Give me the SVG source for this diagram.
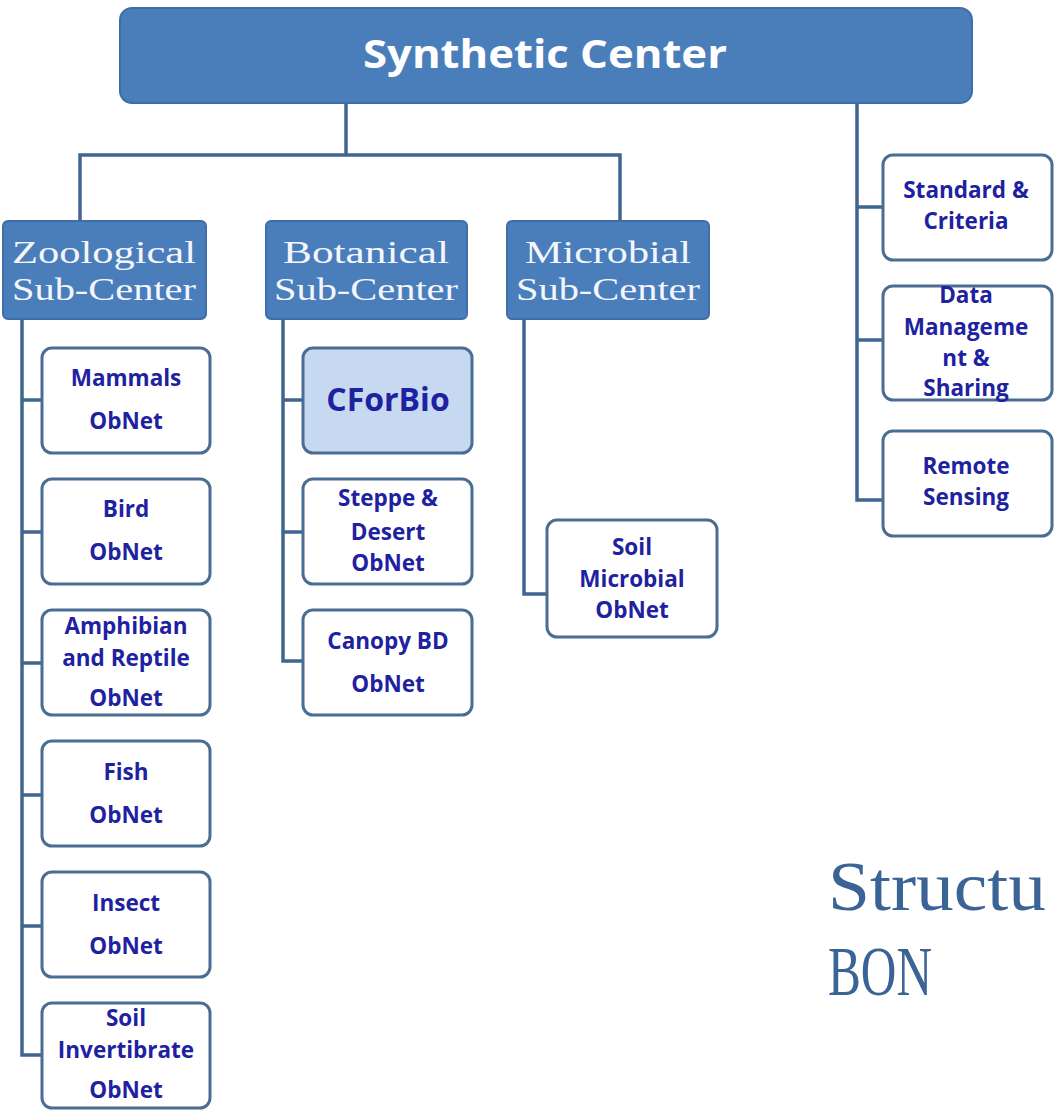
<svg xmlns="http://www.w3.org/2000/svg" width="1054" height="1112" viewBox="0 0 1054 1112">
<style>
.top{fill:#4a7ebb;stroke:#3d6ea8;stroke-width:2}
.sub{fill:#4a7ebb;stroke:#3d6ea8;stroke-width:2}
.leaf{fill:#ffffff;stroke:#4a6d93;stroke-width:3}
.hl{fill:#c6d9f1;stroke:#4a6d93;stroke-width:3}
.conn{fill:none;stroke:#3f6590;stroke-width:3.5}
.tt{font-family:"Open Sans","Liberation Sans",sans-serif;font-weight:bold;fill:#ffffff;text-anchor:middle;font-size:40px}
.st{font-family:"Liberation Serif",serif;fill:#f4f6fb;text-anchor:middle;font-size:32px}
.lt{font-family:"Open Sans","Liberation Sans",sans-serif;font-weight:bold;fill:#1e22a0;text-anchor:middle;font-size:22.5px}
.big{font-size:32px}
.cap{font-family:"Liberation Serif",serif;fill:#3a6496;font-size:70px}
</style>
<g id="connectors">
<path class="conn" d="M346 103 V155 M80 222 V155 H620 V222"/>
<path class="conn" d="M857 97 V500 H883 M857 207 H883 M857 340 H883"/>
<path class="conn" d="M22 319 V1055 H42 M22 400 H42 M22 532 H42 M22 663 H42 M22 795 H42 M22 926 H42"/>
<path class="conn" d="M283 319 V661 H303 M283 400 H303 M283 532 H303"/>
<path class="conn" d="M524 320 V594 H547"/>
</g>
<g id="synthetic-center">
<rect class="top" x="120" y="8" width="852" height="95" rx="12"/>
<text class="tt" x="545" y="68" textLength="364" lengthAdjust="spacingAndGlyphs">Synthetic Center</text>
</g>
<g id="zoological">
<rect class="sub" x="3" y="221" width="203" height="98" rx="5"/>
<text class="st" x="104" y="263" textLength="184" lengthAdjust="spacingAndGlyphs">Zoological</text>
<text class="st" x="104" y="300" textLength="184" lengthAdjust="spacingAndGlyphs">Sub-Center</text>
</g>
<g id="botanical">
<rect class="sub" x="266" y="221" width="201" height="98" rx="5"/>
<text class="st" x="366" y="263" textLength="166" lengthAdjust="spacingAndGlyphs">Botanical</text>
<text class="st" x="366" y="300" textLength="184" lengthAdjust="spacingAndGlyphs">Sub-Center</text>
</g>
<g id="microbial">
<rect class="sub" x="507" y="221" width="202" height="98" rx="5"/>
<text class="st" x="608" y="263" textLength="166" lengthAdjust="spacingAndGlyphs">Microbial</text>
<text class="st" x="608" y="300" textLength="184" lengthAdjust="spacingAndGlyphs">Sub-Center</text>
</g>
<g id="mammals">
<rect class="leaf" x="42" y="348" width="168" height="105" rx="10"/>
<text class="lt" x="126" y="386">Mammals</text>
<text class="lt" x="126" y="429">ObNet</text>
</g>
<g id="bird">
<rect class="leaf" x="42" y="479" width="168" height="105" rx="10"/>
<text class="lt" x="126" y="517">Bird</text>
<text class="lt" x="126" y="560">ObNet</text>
</g>
<g id="amphibian">
<rect class="leaf" x="42" y="610" width="168" height="105" rx="10"/>
<text class="lt" x="126" y="634">Amphibian</text>
<text class="lt" x="126" y="666">and Reptile</text>
<text class="lt" x="126" y="706">ObNet</text>
</g>
<g id="fish">
<rect class="leaf" x="42" y="741" width="168" height="105" rx="10"/>
<text class="lt" x="126" y="780">Fish</text>
<text class="lt" x="126" y="823">ObNet</text>
</g>
<g id="insect">
<rect class="leaf" x="42" y="872" width="168" height="105" rx="10"/>
<text class="lt" x="126" y="911">Insect</text>
<text class="lt" x="126" y="954">ObNet</text>
</g>
<g id="soil-invertibrate">
<rect class="leaf" x="42" y="1003" width="168" height="105" rx="10"/>
<text class="lt" x="126" y="1026">Soil</text>
<text class="lt" x="126" y="1058">Invertibrate</text>
<text class="lt" x="126" y="1098">ObNet</text>
</g>
<g id="cforbio">
<rect class="hl" x="303" y="348" width="169" height="105" rx="10"/>
<text class="lt big" x="388" y="411">CForBio</text>
</g>
<g id="steppe">
<rect class="leaf" x="303" y="479" width="169" height="105" rx="10"/>
<text class="lt" x="388" y="506">Steppe &amp;</text>
<text class="lt" x="388" y="540">Desert</text>
<text class="lt" x="388" y="571">ObNet</text>
</g>
<g id="canopy">
<rect class="leaf" x="303" y="610" width="169" height="105" rx="10"/>
<text class="lt" x="388" y="649">Canopy  BD</text>
<text class="lt" x="388" y="692">ObNet</text>
</g>
<g id="soil-microbial">
<rect class="leaf" x="547" y="520" width="170" height="117" rx="10"/>
<text class="lt" x="632" y="555">Soil</text>
<text class="lt" x="632" y="587">Microbial</text>
<text class="lt" x="632" y="618">ObNet</text>
</g>
<g id="standard">
<rect class="leaf" x="883" y="155" width="169" height="105" rx="10"/>
<text class="lt" x="966" y="198">Standard  &amp;</text>
<text class="lt" x="966" y="229">Criteria</text>
</g>
<g id="data">
<rect class="leaf" x="883" y="286" width="169" height="114" rx="10"/>
<text class="lt" x="966" y="303">Data</text>
<text class="lt" x="966" y="335">Manageme</text>
<text class="lt" x="966" y="366">nt &amp;</text>
<text class="lt" x="966" y="396">Sharing</text>
</g>
<g id="remote">
<rect class="leaf" x="883" y="431" width="169" height="105" rx="10"/>
<text class="lt" x="966" y="474">Remote</text>
<text class="lt" x="966" y="505">Sensing</text>
</g>
<g id="caption">
<text class="cap" x="828" y="910" textLength="218" lengthAdjust="spacingAndGlyphs">Structu</text>
<text class="cap" x="828" y="995" textLength="104" lengthAdjust="spacingAndGlyphs">BON</text>
</g>
</svg>
